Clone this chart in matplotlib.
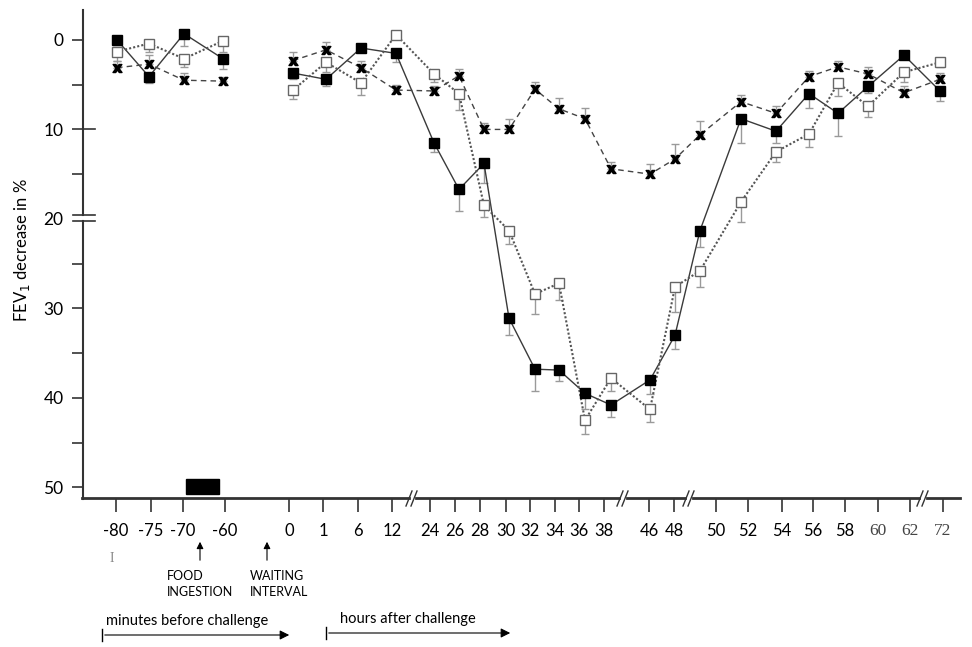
import numpy as np
import matplotlib.pyplot as plt
from matplotlib.lines import Line2D
from matplotlib.patches import Rectangle

plt.rcParams['font.family'] = ['Lato', 'DejaVu Sans']

# time points: first four are minutes before challenge, rest hours after
times = ['-80', '-75', '-70', '-60', '0', '1', '6', '12', '24', '26', '28', '30',
         '32', '34', '36', '38', '46', '48', '50', '52', '54', '56', '58', '60', '62', '72']
n_pre = 4

# FEV1 decrease in %
filled = [0.0, 4.1, -0.7, 2.1, 3.7, 4.4, 0.9, 1.5, 11.5, 16.7, 13.8, 31.1, 36.8,
          36.9, 39.5, 40.8, 38.0, 33.0, 21.3, 8.8, 10.2, 6.0, 8.2, 5.2, 1.7, 5.7]
filled_err = [0.6, 0.7, 1.4, 1.2, 0.7, 0.8, 0.0, 1.0, 1.0, 2.4, 2.2, 1.9, 2.4,
              1.2, 1.8, 1.3, 1.6, 1.6, 1.8, 2.7, 1.3, 1.6, 2.5, 0.7, 0.0, 1.1]
opened = [1.3, 0.4, 2.1, 0.1, 5.6, 2.5, 4.8, -0.6, 3.8, 6.0, 18.5, 21.3, 28.4,
          27.2, 42.5, 37.8, 41.3, 27.6, 25.8, 18.1, 12.5, 10.5, 4.8, 7.4, 3.6, 2.5]
opened_err = [1.1, 0.9, 0.9, 1.3, 1.0, 1.1, 1.3, 0.5, 0.9, 1.8, 1.3, 1.5, 2.2,
              1.9, 1.6, 1.4, 1.4, 2.8, 1.8, 2.3, 1.1, 1.5, 1.5, 1.2, 1.1, 0.5]
cross = [3.1, 2.7, 4.5, 4.6, 2.3, 1.1, 3.1, 5.6, 5.7, 4.0, 10.0, 10.0, 5.5,
         7.7, 8.8, 14.4, 15.0, 13.3, 10.6, 6.9, 8.2, 4.1, 3.0, 3.8, 5.9, 4.4]
cross_err = [0.8, 1.0, 0.8, 0.5, 1.0, 0.9, 0.7, 0.6, 0.5, 0.7, 0.7, 1.2, 0.8,
             1.2, 1.2, 0.8, 1.1, 1.7, 1.5, 0.7, 0.8, 0.6, 0.7, 0.8, 0.7, 0.7]

# layout: slot of each time point on the (non-linear) x axis
x_pos = [11.7, 14.9, 18.4, 22.3, 29.3, 32.6, 36.1, 39.6, 43.4, 45.9, 48.4, 50.9, 53.5,
         55.9, 58.5, 61.1, 65.0, 67.5, 70.0, 74.1, 77.6, 80.9, 83.8, 86.8, 90.4, 94.0]
tick_pos = [11.6, 15.1, 18.3, 22.5, 28.9, 32.3, 35.8, 39.2, 43.0, 45.5, 48.0, 50.6, 53.0,
            55.5, 57.9, 60.4, 64.9, 67.4, 71.6, 74.8, 78.2, 81.3, 84.5, 87.8, 91.0, 94.3]

W, H = 972, 647
fig = plt.figure(figsize=(W / 100, H / 100), dpi=100)
ax = fig.add_axes([83 / W, 1 - 498 / H, 877 / W, 488 / H])
ax.set_xlim(8.3, 96.0)
ax.set_ylim(51.2, -3.35)

x = np.array(x_pos)
zeros = np.zeros(len(x))
ebar = dict(fmt='none', ecolor='#9a9a9a', elinewidth=1, capsize=3.2, capthick=1, zorder=1)
ax.errorbar(x, filled, yerr=[zeros, filled_err], **ebar)
ax.errorbar(x, opened, yerr=[zeros, opened_err], **ebar)
ax.errorbar(x, cross, yerr=[cross_err, zeros], **ebar)

for seg in (slice(0, n_pre), slice(n_pre, None)):
    ax.plot(x[seg], np.array(filled)[seg], '-', color='#3a3a3a', lw=1, zorder=2)
    ax.plot(x[seg], np.array(opened)[seg], color='#555555', lw=1.5, ls=(0, (1, 1)), zorder=2)
    ax.plot(x[seg], np.array(cross)[seg], color='#444444', lw=1, ls=(0, (4, 3)), zorder=2)

ax.plot(x, filled, 's', ms=6.5, color='black', mec='black', zorder=4)
ax.plot(x, opened, 's', ms=7.2, mfc='white', mec='#666666', mew=1, zorder=4)
ax.plot(x, cross, marker=r'$\mathbf{x}$', ls='none', ms=6.5, color='black', zorder=4)

# food ingestion bar
ax.add_patch(Rectangle((18.6, 49.1), 3.3, 1.7, color='black', clip_on=False, zorder=3))

for s in ax.spines.values():
    s.set_visible(False)

ax.set_xticks(tick_pos)
ax.set_xticklabels(times)
ax.tick_params(axis='x', length=10, width=1.2, color='#333333', pad=8, labelsize=12)
for t, lab in zip(ax.xaxis.get_major_ticks(), times):
    if lab in ('-75', '-70', '32', '34', '48', '50', '58'):
        t.tick1line.set_color('#b0b0b0')
    if lab in ('60', '62', '72'):
        t.label1.set_fontfamily('Liberation Serif')
        t.label1.set_fontsize(12.5)
        t.label1.set_color('#444444')

ax.set_yticks([0, 10, 20, 30, 40, 50])
ax.set_yticks([5, 15, 25, 35, 45], minor=True)
ax.tick_params(axis='y', which='both', length=8, width=1.2, color='#333333', pad=6, labelsize=12.5)
yt = ax.yaxis.get_major_ticks()
yt[0].tick1line.set_color('#b0b0b0')
yt[2].tick1line.set_visible(False)
ym = ax.yaxis.get_minor_ticks()
ym[0].tick1line.set_color('#b0b0b0')
ym[4].tick1line.set_color('#b0b0b0')


def fl(x0, y0, x1, y1, **kw):
    kw.setdefault('color', '#333333')
    kw.setdefault('lw', 1.5)
    fig.add_artist(Line2D([x0 / W, x1 / W], [1 - y0 / H, 1 - y1 / H], **kw))


def ft(px, py, s, **kw):
    fig.text(px / W, 1 - py / H, s, **kw)


# y axis with break at 20
fl(83, 10, 83, 215)
fl(83, 221, 83, 499)
fl(73, 215, 95, 215, lw=1.2)
fl(73, 221, 95, 221, lw=1.2)
fl(83, 129, 95, 129, lw=1.2)

# x axis with breaks
edges = [82, 409, 416, 619, 627, 685, 693, 919, 927, 960]
for a, b in zip(edges[::2], edges[1::2]):
    fl(a, 498, b, 498, lw=2)
for c in (412, 623, 689, 923):
    fl(c - 6, 506, c, 491, lw=1)
    fl(c - 1, 506, c + 5, 491, lw=1)

ft(22, 250, 'FEV$_1$ decrease in %', rotation=90, ha='center', va='center', fontsize=12)

ft(112, 558, 'I', fontfamily='Liberation Serif', fontsize=10, color='#888888', ha='center', va='center')

for ax_x in (200, 267):
    ax.annotate('', xy=(ax_x / W, 1 - 539 / H), xytext=(ax_x / W, 1 - 563 / H),
                xycoords='figure fraction', textcoords='figure fraction',
                arrowprops=dict(arrowstyle='-|>', color='black', lw=0.8, mutation_scale=10))
ft(167, 584, 'FOOD\nINGESTION', fontsize=9, ha='left', va='center', linespacing=1.4)
ft(250, 584, 'WAITING\nINTERVAL', fontsize=9, ha='left', va='center', linespacing=1.4)

ft(106, 621, 'minutes before challenge', fontsize=10.5, ha='left', va='center')
ft(340, 619, 'hours after challenge', fontsize=10.5, ha='left', va='center')
for a, b, yy in ((102, 292, 635), (326, 513, 633)):
    fl(a, yy - 6, a, yy + 6, lw=1, color='black')
    ax.annotate('', xy=(b / W, 1 - yy / H), xytext=(a / W, 1 - yy / H),
                xycoords='figure fraction', textcoords='figure fraction',
                arrowprops=dict(arrowstyle='-|>', color='black', lw=0.8, mutation_scale=14))

fig.savefig('out.png', dpi=100)
